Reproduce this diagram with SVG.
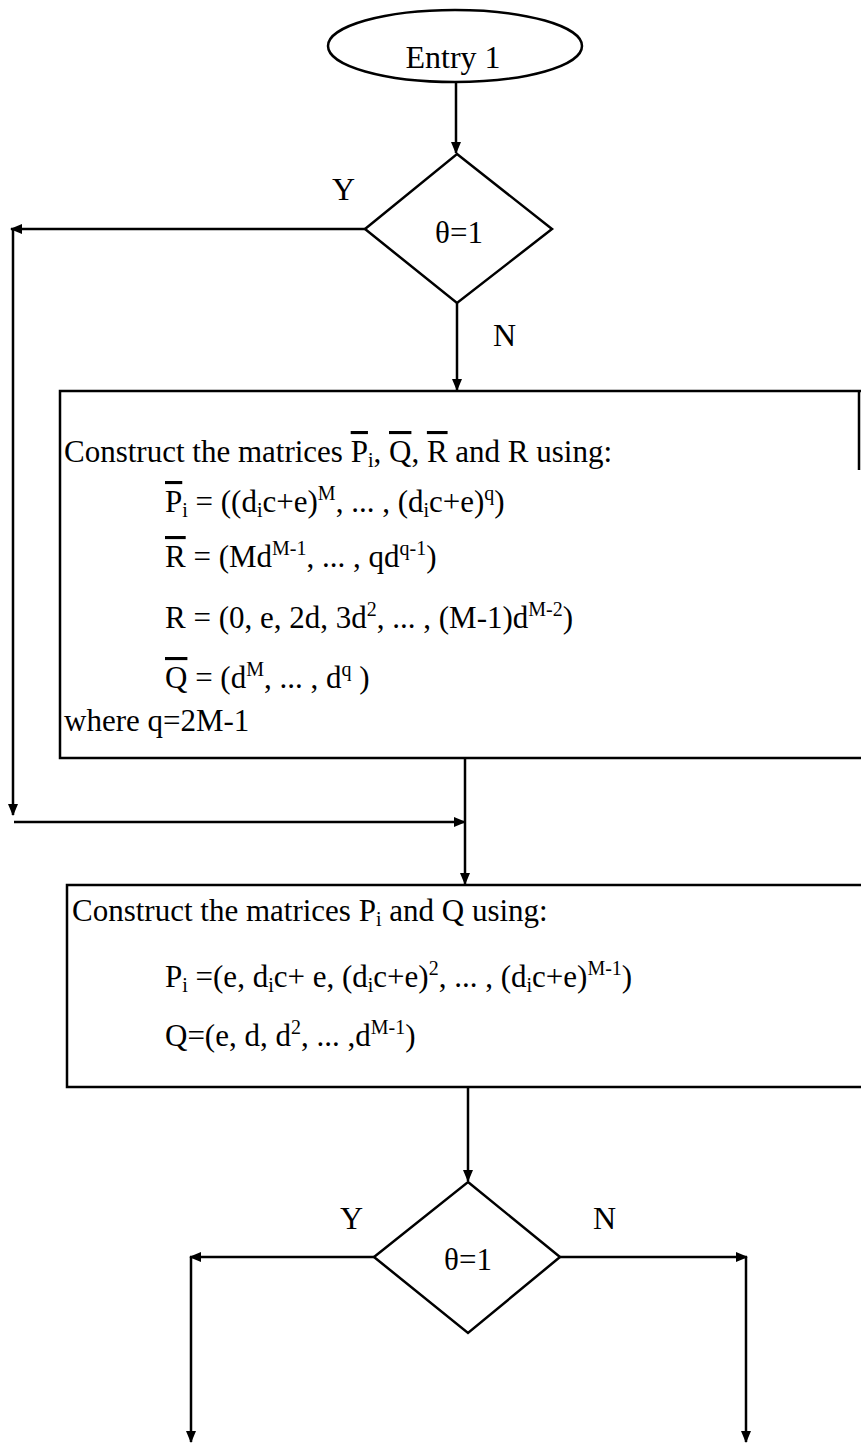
<svg xmlns="http://www.w3.org/2000/svg" width="861" height="1443" viewBox="0 0 861 1443">
<style>
.s{fill:none;stroke:#000;stroke-width:2.5}
.n{fill:#fff;stroke:#000;stroke-width:2.5}
.t{font-family:"Liberation Serif","Times New Roman",serif;font-size:31px;fill:#000}
.l{font-size:32px}
.c{text-anchor:middle}
.ov{text-decoration:overline}
</style>
<defs>
<marker id="a" markerWidth="12" markerHeight="12" refX="11" refY="6" orient="auto" markerUnits="userSpaceOnUse">
<path d="M0,1 L12,6 L0,11 z" fill="#000"/>
</marker>
</defs>
<rect width="861" height="1443" fill="#fff"/>
<g id="connectors">
<line class="s" x1="456" y1="83" x2="456" y2="153" marker-end="url(#a)"/>
<line class="s" x1="365" y1="229" x2="11" y2="229" marker-end="url(#a)"/>
<line class="s" x1="13" y1="229" x2="13" y2="815" marker-end="url(#a)"/>
<line class="s" x1="457" y1="303" x2="457" y2="390" marker-end="url(#a)"/>
<line class="s" x1="465" y1="758" x2="465" y2="884" marker-end="url(#a)"/>
<line class="s" x1="14" y1="822" x2="465" y2="822" marker-end="url(#a)"/>
<line class="s" x1="468" y1="1087" x2="468" y2="1181" marker-end="url(#a)"/>
<line class="s" x1="374" y1="1257" x2="190" y2="1257" marker-end="url(#a)"/>
<line class="s" x1="191" y1="1257" x2="191" y2="1442" marker-end="url(#a)"/>
<line class="s" x1="560" y1="1257" x2="747" y2="1257" marker-end="url(#a)"/>
<line class="s" x1="746" y1="1257" x2="746" y2="1442" marker-end="url(#a)"/>
</g>
<g id="labels">
<text class="t l" x="332" y="200">Y</text>
<text class="t l" x="493" y="346">N</text>
<text class="t l" x="340" y="1229">Y</text>
<text class="t l" x="593" y="1229">N</text>
</g>
<g id="entry">
<ellipse class="n" cx="455" cy="46" rx="127" ry="36"/>
<text class="t l c" x="453" y="68">Entry 1</text>
</g>
<g id="decision1">
<polygon class="n" points="457,154 552,229 457,303 365,229"/>
<text class="t c" x="459" y="243">θ=1</text>
</g>
<g id="box1">
<path class="s" d="M864,391 H60 V758 H864 M859,391 V470"/>
<text class="t" x="64" y="462">Construct the matrices <tspan class="ov">P</tspan><tspan dy="5" font-size="20">i</tspan><tspan dy="-5">, </tspan><tspan class="ov">Q</tspan>, <tspan class="ov">R</tspan> and R using:</text>
<text class="t" x="165" y="512"><tspan class="ov">P</tspan><tspan dy="5" font-size="20">i</tspan><tspan dy="-5"> = ((d</tspan><tspan dy="5" font-size="20">i</tspan><tspan dy="-5">c+e)</tspan><tspan dy="-12" font-size="20">M</tspan><tspan dy="12">, ... , (d</tspan><tspan dy="5" font-size="20">i</tspan><tspan dy="-5">c+e)</tspan><tspan dy="-12" font-size="20">q</tspan><tspan dy="12">)</tspan></text>
<text class="t" x="165" y="567"><tspan class="ov">R</tspan> = (Md<tspan dy="-12" font-size="20">M-1</tspan><tspan dy="12">, ... , qd</tspan><tspan dy="-12" font-size="20">q-1</tspan><tspan dy="12">)</tspan></text>
<text class="t" x="165" y="628">R = (0, e, 2d, 3d<tspan dy="-12" font-size="20">2</tspan><tspan dy="12">, ... , (M-1)d</tspan><tspan dy="-12" font-size="20">M-2</tspan><tspan dy="12">)</tspan></text>
<text class="t" x="165" y="688"><tspan class="ov">Q</tspan> = (d<tspan dy="-12" font-size="20">M</tspan><tspan dy="12">, ... , d</tspan><tspan dy="-12" font-size="20">q</tspan><tspan dy="12"> )</tspan></text>
<text class="t" x="64" y="731">where q=2M-1</text>
</g>
<g id="box2">
<rect class="n" x="67" y="885" width="805" height="202"/>
<text class="t" x="72" y="921">Construct the matrices P<tspan dy="5" font-size="20">i</tspan><tspan dy="-5"> and Q using:</tspan></text>
<text class="t" x="165" y="987">P<tspan dy="5" font-size="20">i</tspan><tspan dy="-5"> =(e, d</tspan><tspan dy="5" font-size="20">i</tspan><tspan dy="-5">c+ e, (d</tspan><tspan dy="5" font-size="20">i</tspan><tspan dy="-5">c+e)</tspan><tspan dy="-12" font-size="20">2</tspan><tspan dy="12">, ... , (d</tspan><tspan dy="5" font-size="20">i</tspan><tspan dy="-5">c+e)</tspan><tspan dy="-12" font-size="20">M-1</tspan><tspan dy="12">)</tspan></text>
<text class="t" x="165" y="1046">Q=(e, d, d<tspan dy="-12" font-size="20">2</tspan><tspan dy="12">, ... ,d</tspan><tspan dy="-12" font-size="20">M-1</tspan><tspan dy="12">)</tspan></text>
</g>
<g id="decision2">
<polygon class="n" points="468,1182 560,1257 468,1333 374,1257"/>
<text class="t c" x="468" y="1270">θ=1</text>
</g>
</svg>
